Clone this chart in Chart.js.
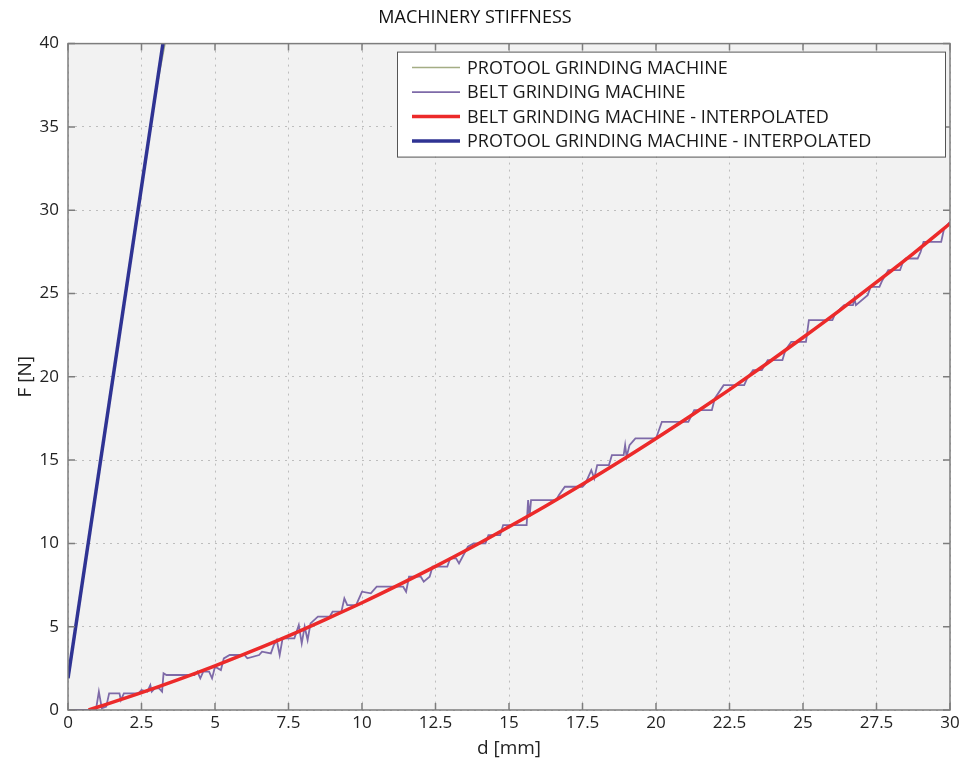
<!DOCTYPE html>
<html>
<head>
<meta charset="utf-8">
<script src="https://cdn.jsdelivr.net/npm/chart.js@4.4.0/dist/chart.umd.min.js"></script>
<style>
  html, body { margin: 0; padding: 0; background: #fff; }
</style>
</head>
<body>
<canvas id="stiffness" width="963" height="760"></canvas>
<script>
// values
const xTicks = [0, 2.5, 5, 7.5, 10, 12.5, 15, 17.5, 20, 22.5, 25, 27.5, 30];
const yTicks = [0, 5, 10, 15, 20, 25, 30, 35, 40];

// protool raw measurement (hidden under its interpolated line)
const protoolD = [0, 0.5, 1.0, 1.5, 2.0, 2.5, 3.0, 3.3];
const protoolF = [1.9, 7.8, 13.7, 19.6, 25.5, 31.3, 37.2, 40.0];

// belt raw measurement (stair-step)
const beltD = [
  0, 0.95, 1.05, 1.15, 1.3, 1.4, 1.75, 1.8, 1.9, 2.4,
  2.5, 2.7, 2.8, 2.85, 2.95, 3.1, 3.2, 3.25, 3.35, 4.3,
  4.4, 4.5, 4.6, 4.8, 4.9, 5.0, 5.2, 5.3, 5.5, 6.0,
  6.1, 6.5, 6.6, 6.9, 7.0, 7.1, 7.2, 7.3, 7.7, 7.85,
  7.95, 8.05, 8.15, 8.25, 8.5, 8.9, 9.0, 9.3, 9.4, 9.5,
  9.8, 9.9, 10.0, 10.3, 10.5, 11.4, 11.5, 11.6, 12.0, 12.1,
  12.3, 12.4, 12.9, 13.0, 13.2, 13.3, 13.6, 13.8, 14.2, 14.3,
  14.7, 14.8, 15.6, 15.65, 15.7, 15.75, 16.6, 16.7, 16.9, 17.5,
  17.6, 17.8, 17.9, 18.0, 18.4, 18.5, 18.9, 18.95, 19.0, 19.1,
  19.3, 20.0, 20.2, 21.1, 21.3, 21.9, 22.0, 22.3, 23.0, 23.1,
  23.3, 23.6, 23.8, 24.3, 24.4, 24.6, 25.1, 25.2, 26.0, 26.1,
  26.4, 26.7, 26.75, 26.8, 27.2, 27.3, 27.6, 27.7, 27.9, 28.3,
  28.4, 28.5, 28.9, 29.0, 29.1, 29.7, 29.8, 30.0
];
const beltF = [
  0, 0, 1.1, 0.1, 0.2, 1.0, 1.0, 0.6, 1.0, 1.0,
  1.2, 1.1, 1.5, 1.1, 1.3, 1.3, 1.1, 2.2, 2.1, 2.1,
  2.3, 1.9, 2.3, 2.3, 1.9, 2.6, 2.4, 3.1, 3.3, 3.3,
  3.1, 3.3, 3.5, 3.4, 3.9, 4.2, 3.3, 4.3, 4.3, 5.1,
  4.0, 5.0, 4.2, 5.2, 5.6, 5.6, 5.9, 5.9, 6.7, 6.3,
  6.3, 6.7, 7.1, 7.0, 7.4, 7.4, 7.1, 8.0, 8.0, 7.7,
  8.0, 8.6, 8.6, 9.1, 9.1, 8.8, 9.8, 10.0, 10.0, 10.5,
  10.5, 11.1, 11.1, 12.6, 11.6, 12.6, 12.6, 12.9, 13.4, 13.4,
  13.6, 14.4, 13.9, 14.7, 14.7, 15.3, 15.3, 15.9, 15.2, 15.9,
  16.3, 16.3, 17.3, 17.3, 18.0, 18.0, 18.7, 19.5, 19.5, 19.9,
  20.4, 20.4, 21.0, 21.0, 21.6, 22.1, 22.1, 23.4, 23.4, 23.8,
  24.3, 24.3, 24.7, 24.3, 24.9, 25.4, 25.4, 25.8, 26.4, 26.4,
  26.9, 27.1, 27.1, 27.5, 28.1, 28.1, 28.9, 29.3
];

// interpolated curves
const beltFitD = [0.7, 1.25, 2.5, 3.75, 5, 6.25, 7.5, 8.75, 10, 11.25, 12.5, 13.75, 15,
  16.25, 17.5, 18.75, 20, 21.25, 22.5, 23.75, 25, 26.25, 27.5, 28.75, 30];
const beltFitF = [0, 0.31, 1.04, 1.82, 2.65, 3.53, 4.45, 5.43, 6.44, 7.51, 8.62, 9.78, 11.0,
  12.25, 13.55, 14.9, 16.3, 17.74, 19.23, 20.77, 22.36, 23.99, 25.68, 27.4, 29.2];
const protoolFitD = [0, 3.23];
const protoolFitF = [1.9, 40];

const labels = [
  'PROTOOL GRINDING MACHINE',
  'BELT GRINDING MACHINE',
  'BELT GRINDING MACHINE - INTERPOLATED',
  'PROTOOL GRINDING MACHINE - INTERPOLATED'
];

function pairs(xs, ys) {
  return xs.map((x, i) => ({x: x, y: ys[i]}));
}

const plotBackground = {
  id: 'plotBackground',
  beforeDraw(chart) {
    const {ctx, chartArea: a} = chart;
    ctx.save();
    ctx.fillStyle = '#f2f2f2';
    ctx.fillRect(a.left, a.top, a.right - a.left, a.bottom - a.top);
    ctx.restore();
  }
};

// matlab style box with inward ticks
const axesBox = {
  id: 'axesBox',
  afterDatasetsDraw(chart) {
    const {ctx, chartArea: a, scales} = chart;
    ctx.save();
    ctx.strokeStyle = '#7d7d7d';
    ctx.lineWidth = 1.5;
    ctx.strokeRect(a.left, a.top, a.right - a.left, a.bottom - a.top);
    ctx.beginPath();
    xTicks.forEach(v => {
      const px = scales.x.getPixelForValue(v);
      ctx.moveTo(px, a.bottom); ctx.lineTo(px, a.bottom - 7);
      ctx.moveTo(px, a.top); ctx.lineTo(px, a.top + 7);
    });
    yTicks.forEach(v => {
      const py = scales.y.getPixelForValue(v);
      ctx.moveTo(a.left, py); ctx.lineTo(a.left + 7, py);
      ctx.moveTo(a.right, py); ctx.lineTo(a.right - 7, py);
    });
    ctx.stroke();
    ctx.restore();
  }
};

const boxLegend = {
  id: 'boxLegend',
  afterDraw(chart) {
    const {ctx, chartArea: a} = chart;
    const left = a.right - 553, top = a.top + 8, w = 548, h = 105;
    ctx.save();
    ctx.fillStyle = '#ffffff';
    ctx.fillRect(left, top, w, h);
    ctx.strokeStyle = '#555';
    ctx.lineWidth = 1;
    ctx.strokeRect(left + 0.5, top + 0.5, w, h);
    ctx.font = "18px 'Open Sans', sans-serif";
    ctx.textBaseline = 'middle';
    ctx.fillStyle = '#1a1a1a';
    chart.data.datasets.forEach((ds, i) => {
      const y = top + 16 + i * 24.5;
      ctx.strokeStyle = ds.borderColor;
      ctx.lineWidth = ds.borderWidth;
      ctx.beginPath();
      ctx.moveTo(left + 15, y);
      ctx.lineTo(left + 63, y);
      ctx.stroke();
      ctx.fillText(ds.label, left + 70, y + 1);
    });
    ctx.restore();
  }
};

Chart.defaults.font.family = "'Open Sans', sans-serif";
Chart.defaults.color = '#222';

const ctx = document.getElementById('stiffness').getContext('2d');
new Chart(ctx, {
  type: 'scatter',
  data: {
    datasets: [
      {
        label: labels[0],
        data: pairs(protoolD, protoolF),
        showLine: true,
        borderColor: '#a4ad84',
        borderWidth: 1.5,
        pointRadius: 0,
        order: 4
      },
      {
        label: labels[1],
        data: pairs(beltD, beltF),
        showLine: true,
        borderColor: '#7e6aa8',
        borderWidth: 1.8,
        pointRadius: 0,
        order: 3
      },
      {
        label: labels[2],
        data: pairs(beltFitD, beltFitF),
        showLine: true,
        borderColor: '#ec2a2a',
        borderWidth: 3.5,
        pointRadius: 0,
        cubicInterpolationMode: 'monotone',
        order: 2
      },
      {
        label: labels[3],
        data: pairs(protoolFitD, protoolFitF),
        showLine: true,
        borderColor: '#2f3393',
        borderWidth: 3.5,
        pointRadius: 0,
        order: 1
      }
    ]
  },
  options: {
    responsive: false,
    animation: false,
    layout: { padding: { left: 0, right: 13, top: 0, bottom: 0 } },
    plugins: {
      legend: { display: false },
      tooltip: { enabled: false },
      title: {
        display: true,
        text: 'MACHINERY STIFFNESS',
        color: '#111',
        font: { size: 18, weight: 'normal' },
        padding: { top: 7, bottom: 15 }
      }
    },
    scales: {
      x: {
        type: 'linear',
        min: 0,
        max: 30,
        afterFit(scale) { scale.height = 50; },
        afterBuildTicks(scale) { scale.ticks = xTicks.map(v => ({value: v})); },
        ticks: {
          padding: 3,
          font: { size: 17 },
          callback: v => String(v)
        },
        grid: { color: '#bdbdbd', lineWidth: 1, drawTicks: false },
        border: { display: false, dash: [2, 5] },
        title: {
          display: true,
          text: 'd [mm]',
          font: { size: 19 },
          padding: { top: 4, bottom: 0 }
        }
      },
      y: {
        type: 'linear',
        min: 0,
        max: 40,
        afterFit(scale) { scale.width = 68; },
        afterBuildTicks(scale) { scale.ticks = yTicks.map(v => ({value: v})); },
        ticks: {
          padding: 9,
          font: { size: 17 },
          callback: v => String(v)
        },
        grid: { color: '#bdbdbd', lineWidth: 1, drawTicks: false },
        border: { display: false, dash: [2, 5] },
        title: {
          display: true,
          text: 'F [N]',
          font: { size: 19 },
          padding: { top: 14, bottom: 0 }
        }
      }
    }
  },
  plugins: [plotBackground, axesBox, boxLegend]
});
</script>
</body>
</html>
